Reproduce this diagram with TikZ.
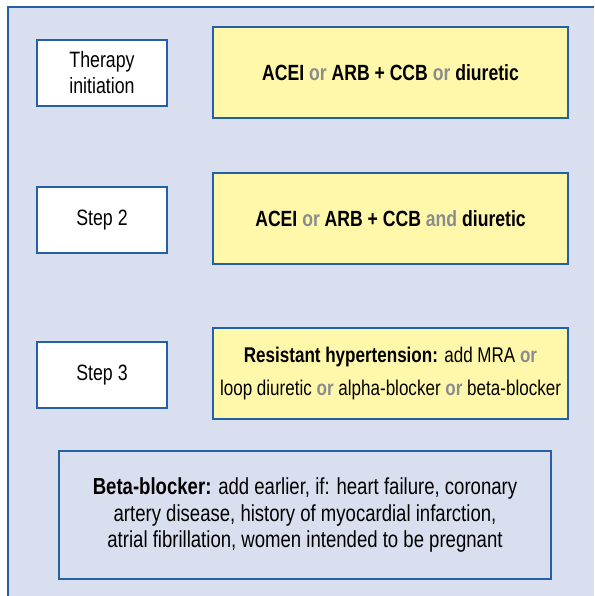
\documentclass[tikz,border=0pt]{standalone}
\usepackage{fontspec}
\setmainfont{Liberation Sans}[FakeStretch=0.8]
\usepackage{tikz}
\usetikzlibrary{positioning}
\definecolor{panelBlue}{HTML}{D9DFEE}
\definecolor{edgeBlue}{HTML}{2360A8}
\definecolor{drugYellow}{HTML}{FFF8AA}
\definecolor{orGray}{HTML}{8A8C90}
\newcommand{\og}[1]{\textcolor{orGray}{#1}}
\tikzset{lbl/.style={draw=edgeBlue, line width=1.1pt, fill=white,
  minimum width=130pt, minimum height=66pt, align=center, inner sep=0pt,
  font=\fontsize{22.2}{26}\selectfont}}
\tikzset{drug/.style={draw=edgeBlue, line width=1.1pt, fill=drugYellow,
  minimum width=355pt, minimum height=91pt, align=center, inner sep=0pt,
  font=\fontsize{22}{33}\selectfont}}
\tikzset{note/.style={draw=edgeBlue, line width=1.1pt,
  minimum width=492pt, minimum height=128pt, align=center, inner sep=0pt,
  font=\fontsize{23.2}{26.7}\selectfont}}

\begin{document}
\begin{tikzpicture}[x=1pt,y=-1pt]
        \useasboundingbox (0,0) rectangle (594,596);
        %% panel
        \fill[panelBlue] (8,7) rectangle (594,596);
        \draw[edgeBlue, line width=1.1pt] (594,7) -- (8,7) -- (8,596);
        %% steps
        \node (init) at (102,73) [lbl] {Therapy\\initiation};
        \node (step2) at (102,220) [lbl] {Step 2};
        \node (step3) at (102,375) [lbl] {Step 3};
        %% drugs
        \node (drug1) at (390.5,72.5) [drug]
            {\bfseries ACEI \og{or} ARB + CCB \og{or} diuretic};
        \node (drug2) at (390.5,218.5) [drug]
            {\bfseries ACEI \og{or} ARB + CCB \og{and} diuretic};
        \node (drug3) at (390.5,373.5) [drug, font=\fontsize{21.3}{33}\selectfont]
            {\textbf{Resistant hypertension:} add MRA \og{\bfseries or}\\
             loop diuretic \og{\bfseries or} alpha-blocker \og{\bfseries or} beta-blocker};
        %% beta-blocker note
        \node (beta) at (305,515) [note]
            {\textbf{Beta-blocker:} add earlier, if: heart failure, coronary\\
             artery disease, history of myocardial infarction,\\
             atrial fibrillation, women intended to be pregnant};
\end{tikzpicture}
\end{document}
